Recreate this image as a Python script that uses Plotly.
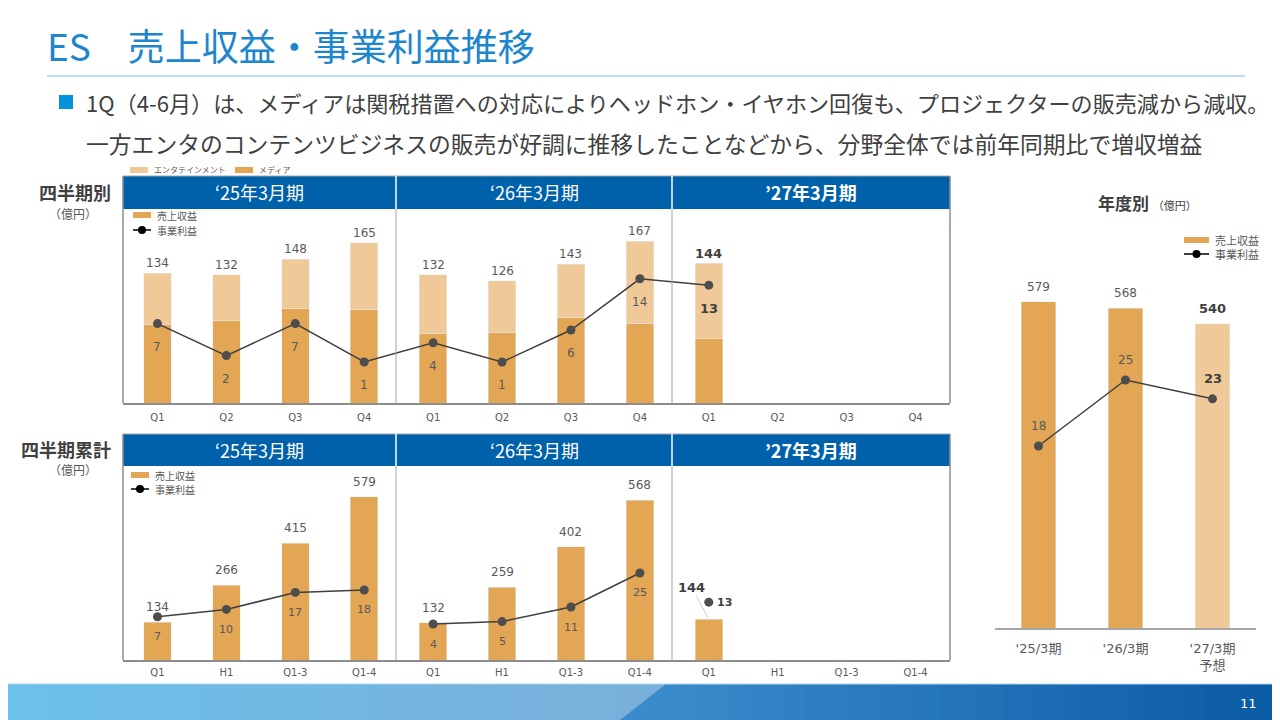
import plotly.graph_objects as go

# ページ余白(8px)を差し引いた図のサイズ
OFF = 8
W, H = 1280 - OFF, 720 - OFF

# ---- データ ----
periods = ["‘25年3月期", "‘26年3月期", "’27年3月期"]

q_ticks = ["Q1", "Q2", "Q3", "Q4"] * 3
q_total = [134, 132, 148, 165, 132, 126, 143, 167, 144]
q_media = [81, 85, 97, 96, 72, 73, 88, 82, 66]
q_ent = [53, 47, 51, 69, 60, 53, 55, 85, 78]
q_profit = [7, 2, 7, 1, 4, 1, 6, 14, 13]

c_ticks = ["Q1", "H1", "Q1-3", "Q1-4"] * 3
c_sales = [134, 266, 415, 579, 132, 259, 402, 568, 144]
c_profit = [7, 10, 17, 18, 4, 5, 11, 25, 13]

fy_ticks = ["'25/3期", "'26/3期", "'27/3期<br>予想"]
fy_sales = [579, 568, 540]
fy_profit = [18, 25, 23]

# ---- 色・フォント ----
MEDIA = "#E2A654"
ENT = "#EFCA98"
LINE = "#404040"
DOT = "#4D4D4D"
BLUE = "#0061AB"
GRAY = "#8C8C8C"
TXT = "#595959"
JP = "Noto Sans CJK JP"
NUM = "DejaVu Sans, Noto Sans CJK JP"


def px(x):
    return (x - OFF) / W


def py(y):
    return 1 - (y - OFF) / H


fig = go.Figure()

# 四半期別
qx = list(range(len(q_total)))
fig.add_trace(go.Bar(x=qx, y=q_media, marker_color=MEDIA, width=0.4,
                     xaxis="x", yaxis="y", hoverinfo="skip"))
fig.add_trace(go.Bar(x=qx, y=q_ent, marker_color=ENT, width=0.4,
                     xaxis="x", yaxis="y", hoverinfo="skip"))
fig.add_trace(go.Scatter(x=qx, y=q_profit, mode="lines+markers",
                         line=dict(color=LINE, width=1.5),
                         marker=dict(color=DOT, size=9),
                         xaxis="x", yaxis="y4"))

# 四半期累計
fig.add_trace(go.Bar(x=qx, y=c_sales, marker_color=MEDIA, width=0.4,
                     xaxis="x2", yaxis="y2", hoverinfo="skip"))
for g in range(3):
    xs = qx[g * 4:g * 4 + 4]
    fig.add_trace(go.Scatter(x=xs, y=c_profit[g * 4:g * 4 + 4], mode="lines+markers",
                             line=dict(color=LINE, width=1.5),
                             marker=dict(color=DOT, size=9),
                             xaxis="x2", yaxis="y5"))

# 年度別
fx = list(range(len(fy_sales)))
fig.add_trace(go.Bar(x=fx, y=fy_sales, marker_color=[MEDIA, MEDIA, ENT], width=0.4,
                     xaxis="x3", yaxis="y3", hoverinfo="skip"))
fig.add_trace(go.Scatter(x=fx, y=fy_profit, mode="lines+markers",
                         line=dict(color=LINE, width=1.5),
                         marker=dict(color=DOT, size=9),
                         xaxis="x3", yaxis="y6"))

ann = []


def label(text, x, y, xr, yr, ys=0, size=12, bold=False, **kw):
    t = f"<b>{text}</b>" if bold else str(text)
    ann.append(dict(text=t, x=x, y=y, xref=xr, yref=yr, yshift=ys, showarrow=False,
                    font=dict(family=NUM, size=size, color=LINE if bold else TXT), **kw))


for i, v in enumerate(q_total):
    label(v, i, q_media[i] + q_ent[i], "x", "y", 10, 13 if i == 8 else 12, i == 8)
for i, v in enumerate(q_profit):
    label(v, i, v, "x", "y4", -23, 13 if i == 8 else 12, i == 8)

for i, v in enumerate(c_sales):
    if i == 8:
        ann.append(dict(text=f"<b>{v}</b>", x=i, y=v, xref="x2", yref="y2",
                        showarrow=True, arrowhead=0, arrowwidth=0.8, arrowcolor="#BFBFBF",
                        ax=-17, ay=-32, standoff=2,
                        font=dict(family=NUM, size=13, color=LINE)))
    else:
        label(v, i, v, "x2", "y2", 15, 12)
for i, v in enumerate(c_profit):
    if i == 8:
        label(v, i, v, "x2", "y5", 0, 11, True, xanchor="left", xshift=6)
    else:
        label(v, i, v, "x2", "y5", -20, 11)

for i, v in enumerate(fy_sales):
    label(v, i, v, "x3", "y3", 15, 13 if i == 2 else 12, i == 2)
for i, v in enumerate(fy_profit):
    label(v, i, v, "x3", "y6", 20, 13 if i == 2 else 12, i == 2)

shapes = []


def rect(x0, y0, x1, y1, fill=None, line=None, lw=0):
    shapes.append(dict(type="rect", xref="paper", yref="paper",
                       x0=px(x0), x1=px(x1), y0=py(y1), y1=py(y0),
                       fillcolor=fill, line=dict(color=line or "rgba(0,0,0,0)", width=lw),
                       layer="above" if fill is None else "below"))


def vline(x, y0, y1, color, w=1):
    shapes.append(dict(type="line", xref="paper", yref="paper",
                       x0=px(x), x1=px(x), y0=py(y0), y1=py(y1),
                       line=dict(color=color, width=w)))


def hline(x0, x1, y, color, w=1):
    shapes.append(dict(type="line", xref="paper", yref="paper",
                       x0=px(x0), x1=px(x1), y0=py(y), y1=py(y),
                       line=dict(color=color, width=w)))


def txt(text, x, y, size, color=TXT, xa="center", family=JP, **kw):
    ann.append(dict(text=text, x=px(x), y=py(y), xref="paper", yref="paper",
                    showarrow=False, xanchor=xa, yanchor="middle",
                    font=dict(family=family, size=size, color=color), **kw))


# タイトル・本文
txt("ES　売上収益・事業利益推移", 45, 45, 37, "#1D86CC", "left")
hline(47, 1245, 76, "#7DBDE3", 1)
rect(59, 95, 73, 109, fill="#0095D9")
txt("1Q（4-6月）は、メディアは関税措置への対応によりヘッドホン・イヤホン回復も、プロジェクターの販売減から減収。",
    84, 102, 22.1, "#404040", "left")
txt("一方エンタのコンテンツビジネスの販売が好調に推移したことなどから、分野全体では前年同期比で増収増益",
    84, 143, 22.8, "#404040", "left")

# パネル枠と見出し
sections = [(123, 396), (396, 672), (672, 950)]
for top, head_bot, base in [(176, 209, 403), (434, 466, 660)]:
    rect(123, top, 950, head_bot, fill=BLUE)
    vline(123, top, base, GRAY, 1.5)
    vline(950, top, base, GRAY, 1.5)
    hline(123, 950, top, "#A6A6A6", 1)
    for k, (a, b) in enumerate(sections):
        if k > 0:
            vline(a, top, head_bot, "white", 1.5)
            vline(a, head_bot, base, "#A6A6A6", 1)
        name = f"<b>{periods[k]}</b>" if k == 2 else periods[k]
        txt(name, (a + b) / 2, (top + head_bot) / 2, 18, "white")

txt("<b>四半期別</b>", 75, 192, 18, "#404040")
txt("（億円）", 73, 213, 12)
txt("<b>四半期累計</b>", 66, 449, 18, "#404040")
txt("（億円）", 73, 469, 12)
txt("<b>年度別</b> <span style='font-size:11px'>（億円）</span>", 1147, 202, 17, "#404040")


# 凡例
def legend_bar(x, y, color, text, size=10, sw=18):
    rect(x, y - 3, x + sw, y + 3, fill=color)
    txt(text, x + sw + 4, y, size, TXT, "left")


def legend_line(x, y, text, size=10, sw=18):
    hline(x, x + sw, y, "#000000", 1.5)
    shapes.append(dict(type="circle", xref="paper", yref="paper",
                       x0=px(x + sw / 2 - 4), x1=px(x + sw / 2 + 4),
                       y0=py(y + 4), y1=py(y - 4), fillcolor="#000000",
                       line=dict(width=0)))
    txt(text, x + sw + 4, y, size, TXT, "left")


legend_bar(130, 170, ENT, "エンタテインメント", 8)
legend_bar(235, 170, MEDIA, "メディア", 8)
legend_bar(133, 215, MEDIA, "売上収益")
legend_line(133, 230, "事業利益")
legend_bar(131, 475, MEDIA, "売上収益")
legend_line(131, 489, "事業利益")
legend_bar(1184, 240, MEDIA, "売上収益", 11, 25)
legend_line(1184, 254, "事業利益", 11, 25)

# フッター
n = 40
for k in range(n):
    t = k / (n - 1)
    c = tuple(int(a + (b - a) * t) for a, b in zip((108, 193, 235), (122, 176, 219)))
    rect(665 * k / n, 684, 665 * (k + 1) / n + 1, 720, fill=f"rgb{c}")
for k in range(n):
    t = k / (n - 1)
    c = tuple(int(a + (b - a) * t) for a, b in zip((58, 139, 203), (10, 91, 165)))
    rect(665 + 615 * k / n, 684, 665 + 615 * (k + 1) / n + 1, 720, fill=f"rgb{c}")
shapes.append(dict(type="path", xref="paper", yref="paper",
                   path=f"M {px(620)} {py(720)} L {px(666)} {py(684)} L {px(666)} {py(720)} Z",
                   fillcolor="rgb(58,139,203)", line=dict(width=0), layer="below"))
hline(0, 1280, 684, "#A9D8F0", 1)
txt("11", 1248, 703, 13, "white", family="DejaVu Sans")

axis_common = dict(showgrid=False, zeroline=False, ticks="", fixedrange=True)
yhide = dict(visible=False, showgrid=False, zeroline=False, fixedrange=True)

fig.update_layout(
    width=W, height=H,
    margin=dict(l=0, r=0, t=0, b=0),
    paper_bgcolor="white", plot_bgcolor="white",
    barmode="stack", showlegend=False,
    font=dict(family=NUM, color=TXT),
    xaxis=dict(domain=[px(123), px(950)], range=[-0.5, 11.5], anchor="y",
               tickvals=list(range(12)), ticktext=q_ticks,
               showline=True, linecolor=GRAY, linewidth=2, ticklabelstandoff=4,
               tickfont=dict(size=10, color=TXT), **axis_common),
    yaxis=dict(domain=[py(403), py(209)], range=[0, 200], anchor="x", **yhide),
    yaxis4=dict(overlaying="y", range=[-5.4, 24.9], anchor="x", **yhide),
    xaxis2=dict(domain=[px(123), px(950)], range=[-0.5, 11.5], anchor="y2",
                tickvals=list(range(12)), ticktext=c_ticks,
                showline=True, linecolor=GRAY, linewidth=2, ticklabelstandoff=2,
                tickfont=dict(size=10, color=TXT), **axis_common),
    yaxis2=dict(domain=[py(660), py(466)], range=[0, 689], anchor="x2", **yhide),
    yaxis5=dict(overlaying="y2", range=[-10.8, 69], anchor="x2", **yhide),
    xaxis3=dict(domain=[px(995), px(1256)], range=[-0.5, 2.5], anchor="y3",
                tickvals=fx, ticktext=fy_ticks,
                showline=True, linecolor="#A6A6A6", linewidth=1.5, ticklabelstandoff=8,
                tickfont=dict(size=13, color=TXT), **axis_common),
    yaxis3=dict(domain=[py(628), py(280)], range=[0, 618], anchor="x3", **yhide),
    yaxis6=dict(overlaying="y3", range=[-1.3, 35.6], anchor="x3", **yhide),
    shapes=shapes,
    annotations=ann,
)

fig.write_html("out.html")
